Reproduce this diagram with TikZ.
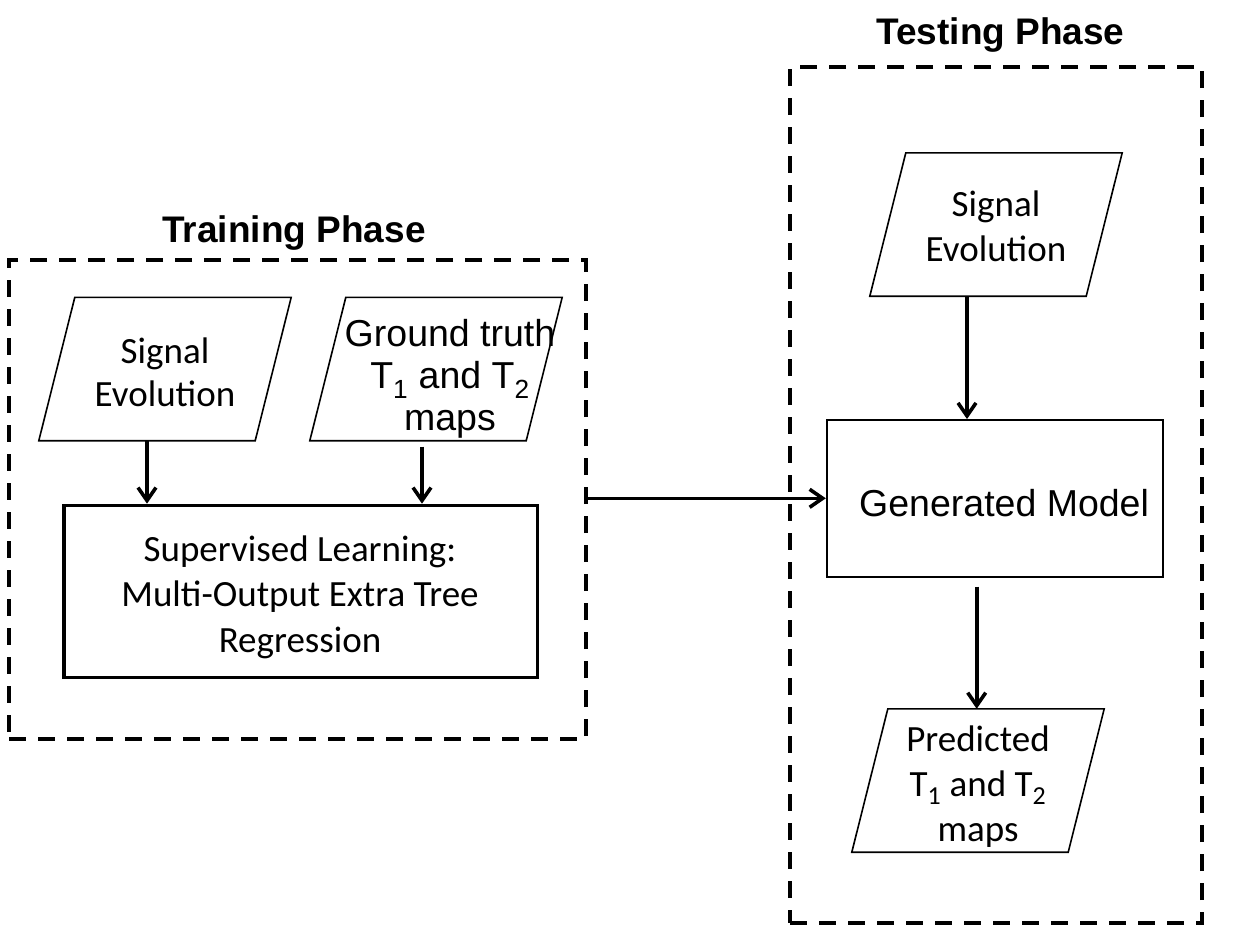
\documentclass[tikz,border=0pt]{standalone}
\usepackage{fontspec}
\setmainfont{Liberation Sans}
\newfontfamily\calib{Carlito}
\usetikzlibrary{arrows.meta,calc}
\newcommand\drawpara[1]{\draw[paraline] ($(#1.north west)+(36,0)$) -- (#1.north east) -- ($(#1.south east)+(-36,0)$) -- (#1.south west) -- cycle;}
\begin{document}
\begin{tikzpicture}[x=1pt,y=-1pt,
  pbox/.style={rectangle, inner sep=0pt, minimum width=252pt, minimum height=143pt},
  paraline/.style={line width=1.6pt, line join=miter},
  dashbox/.style={draw, line width=4.2pt, dash pattern=on 17pt off 12pt, inner sep=0pt},
  thickbox/.style={draw, line width=3.6pt, inner sep=0pt},
  thinbox/.style={draw, line width=1.8pt, inner sep=0pt},
  arr/.style={line width=3.6pt, -{Straight Barb[length=13pt, width=18pt]}},
  cal/.style={font=\calib\fontsize{#1}{44}\selectfont, align=center, inner sep=0pt},
  ari/.style={font=\fontsize{#1}{42}\selectfont, align=center, inner sep=0pt},
  ttl/.style={font=\bfseries\fontsize{37}{42}\selectfont, anchor=base, inner sep=0pt}
]
\useasboundingbox (0,0) rectangle (1244,937);

% phase boxes
\node[dashbox, minimum width=577pt, minimum height=479pt] (train) at (297.5,499.5) {};
\node[dashbox, minimum width=412pt, minimum height=856pt] (test) at (996,495) {};
\node[ttl] (trt) at (294,242) {Training Phase};
\node[ttl] (tet) at (1000.5,44) {Testing Phase};

% training phase
\node[pbox] (s1) at (165,369) {};
\drawpara{s1}
\node[cal=37, font=\calib\fontsize{37}{43.5}\selectfont] (s1t) at (165,372.5) {Signal\\Evolution};

\node[pbox] (gt) at (436,369) {};
\drawpara{gt}
\node[ari=37.5] (gtt) at (450,379) {Ground truth\\T\textsubscript{1} and T\textsubscript{2}\\maps};

\node[thickbox, minimum width=473.5pt, minimum height=172pt] (sup) at (300.8,591.5) {};
\node[cal=37, font=\calib\fontsize{37}{45.5}\selectfont] (supt) at (300,597) {Supervised Learning:\\Multi-Output Extra Tree\\Regression};

% testing phase
\node[pbox] (sig2) at (996,224.5) {};
\drawpara{sig2}
\node[cal=37, font=\calib\fontsize{37}{45}\selectfont] (sig2t) at (996,226) {Signal\\Evolution};

\node[thinbox, minimum width=336pt, minimum height=156.7pt] (gen) at (994.7,498.3) {};
\node[font=\fontsize{37.5}{44}\selectfont, anchor=base west, inner sep=0pt] (gent) at (859,516) {Generated Model};

\node[pbox] (pred) at (978,780.5) {};
\drawpara{pred}
\node[cal=37, font=\calib\fontsize{37}{44.7}\selectfont] (predt) at (978,786.5) {Predicted\\T\textsubscript{1} and T\textsubscript{2}\\maps};

% connectors
\coordinate (a1s) at ($(s1.south)+(-18,0)$);
\draw[arr] (a1s) -- (a1s |- sup.north);
\coordinate (a2s) at ($(gt.south)+(-14,6)$);
\draw[arr] (a2s) -- (a2s |- sup.north);
\coordinate (a3s) at ($(sig2.south)+(-29,0)$);
\draw[arr] (a3s) -- (a3s |- gen.north);
\coordinate (a4s) at ($(gen.south)+(-18,9)$);
\draw[arr] (a4s) -- (a4s |- pred.north);
\draw[arr] (gen.west -| train.east) -- (gen.west);
\end{tikzpicture}
\end{document}
